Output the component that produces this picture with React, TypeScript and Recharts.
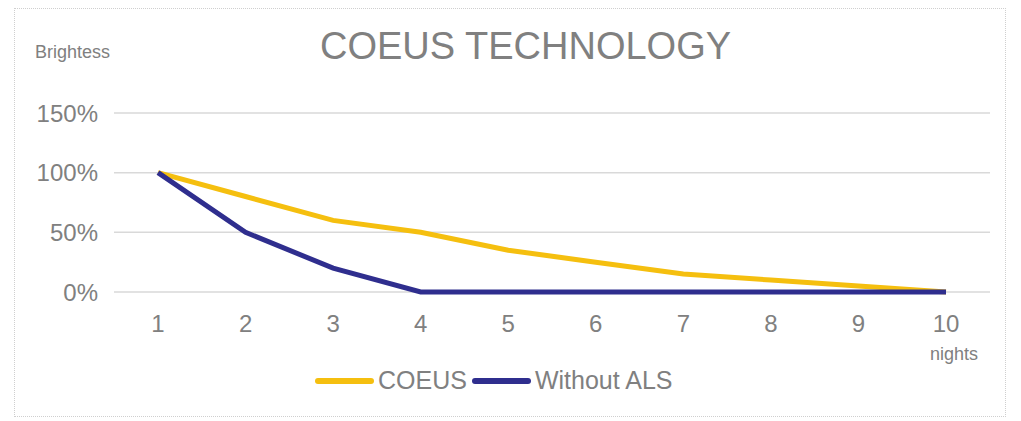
import React from "react";
import { LineChart, Line, XAxis, YAxis, CartesianGrid } from "recharts";

const nights = ["1", "2", "3", "4", "5", "6", "7", "8", "9", "10"];
const coeus = [1.0, 0.8, 0.6, 0.5, 0.35, 0.25, 0.15, 0.1, 0.05, 0];
const withoutAls = [1.0, 0.5, 0.2, 0, 0, 0, 0, 0, 0, 0];
const yTicks = [0, 0.5, 1, 1.5];

const series = [
  { key: "COEUS", color: "#F5BF0F" },
  { key: "Without ALS", color: "#2F2E8E" },
];

const data = nights.map((n, i) => ({
  night: n,
  COEUS: coeus[i],
  "Without ALS": withoutAls[i],
}));

const FONT = "'Liberation Sans', Arial, sans-serif";
const GREY = "#808080";

export default function App() {
  return (
    <div style={{ position: "absolute", left: 0, top: 0, width: 1021, height: 421, background: "#fff" }}>
      <div
        style={{
          position: "absolute",
          left: 14,
          top: 8,
          width: 990,
          height: 407,
          border: "1px dotted #cfcfcf",
        }}
      />
      <div style={{ position: "absolute", left: 320, top: 25, fontFamily: FONT, fontSize: 38, color: GREY, whiteSpace: "nowrap" }}>
        COEUS TECHNOLOGY
      </div>
      <div style={{ position: "absolute", left: 35, top: 42, fontFamily: FONT, fontSize: 18, color: GREY }}>
        Brightess
      </div>
      <div style={{ position: "absolute", left: 930, top: 344, fontFamily: FONT, fontSize: 18, color: GREY }}>
        nights
      </div>
      <LineChart width={1021} height={421} data={data} margin={{ top: 113, right: 31, bottom: 99, left: 0 }}>
        <CartesianGrid vertical={false} stroke="#d9d9d9" strokeWidth={1.5} />
        <XAxis
          dataKey="night"
          padding={{ left: 44, right: 44 }}
          axisLine={false}
          tickLine={false}
          tickMargin={17}
          tick={{ fill: GREY, fontSize: 24, fontFamily: FONT }}
        />
        <YAxis
          width={114}
          domain={[0, 1.5]}
          ticks={yTicks}
          axisLine={false}
          tickLine={false}
          tickMargin={10}
          tickFormatter={(v: number) => `${Math.round(v * 100)}%`}
          tick={{ fill: GREY, fontSize: 24, fontFamily: FONT }}
        />
        {series.map((s) => (
          <Line key={s.key} type="linear" dataKey={s.key} stroke={s.color} strokeWidth={5} dot={false} isAnimationActive={false} />
        ))}
      </LineChart>
      <div style={{ position: "absolute", left: 315, top: 366, display: "flex", alignItems: "center", fontFamily: FONT }}>
        {series.map((s) => (
          <div key={s.key} style={{ display: "flex", alignItems: "center" }}>
            <div style={{ width: 59, height: 6, borderRadius: 3, background: s.color, marginRight: 4 }} />
            <span style={{ color: GREY, fontSize: 25, marginRight: 5 }}>{s.key}</span>
          </div>
        ))}
      </div>
    </div>
  );
}
